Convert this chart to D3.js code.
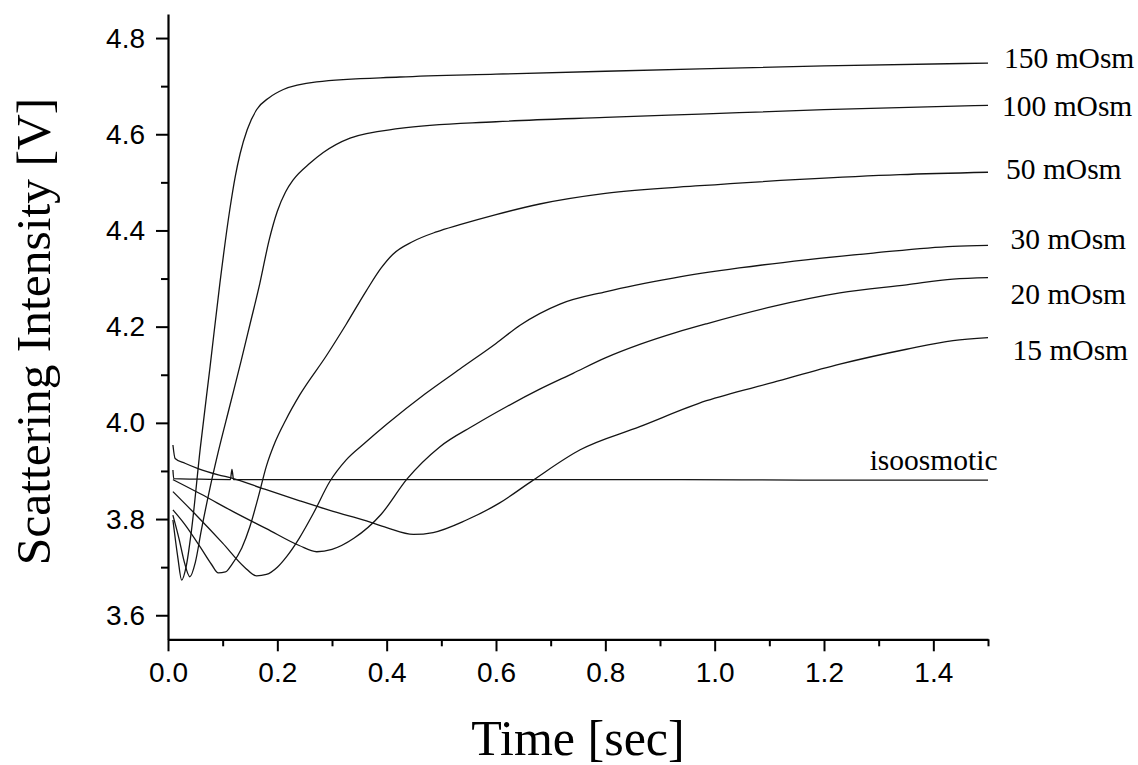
<!DOCTYPE html>
<html>
<head>
<meta charset="utf-8">
<script src="https://cdn.jsdelivr.net/npm/d3@7"></script>
<style>
  html, body { margin: 0; padding: 0; background: #fff; }
  svg { display: block; }
</style>
</head>
<body>
<svg id="chart" width="1138" height="765"></svg>
<script>
// Light-scattering traces: intensity [V] versus time [sec] for each medium
const iso = [[0.009,3.902],[0.0105,3.884],[0.05,3.883],[0.114,3.882],[0.117,3.903],[0.12,3.882],
  [0.3,3.882],[0.6,3.882],[0.9,3.882],[1.2,3.881],[1.5,3.881]];
const m15 = [[0.009,3.954],[0.013,3.926],[0.031,3.916],[0.055,3.905],[0.092,3.892],[0.117,3.885],
  [0.177,3.862],[0.241,3.838],[0.302,3.816],[0.363,3.796],[0.40,3.782],[0.449,3.768],[0.485,3.772],
  [0.546,3.798],[0.606,3.833],[0.668,3.881],[0.754,3.944],[0.863,3.992],[0.985,4.046],[1.107,4.084],
  [1.229,4.122],[1.351,4.153],[1.436,4.171],[1.5,4.177]];
const m20 = [[0.009,3.882],[0.06,3.852],[0.12,3.815],[0.18,3.78],[0.24,3.745],[0.272,3.732],
  [0.30,3.737],[0.34,3.76],[0.39,3.81],[0.437,3.883],[0.497,3.95],[0.56,3.995],[0.62,4.034],
  [0.68,4.07],[0.741,4.103],[0.80,4.135],[0.863,4.163],[0.93,4.188],[0.985,4.206],[1.107,4.242],
  [1.229,4.270],[1.351,4.287],[1.436,4.299],[1.5,4.302]];
const m30 = [[0.009,3.857],[0.05,3.81],[0.10,3.75],[0.14,3.70],[0.162,3.682],[0.18,3.685],
  [0.20,3.70],[0.217,3.722],[0.24,3.76],[0.266,3.812],[0.296,3.878],[0.326,3.923],[0.36,3.958],
  [0.40,3.997],[0.47,4.06],[0.534,4.112],[0.60,4.165],[0.644,4.203],[0.717,4.247],[0.802,4.273],
  [0.924,4.301],[1.045,4.322],[1.167,4.339],[1.29,4.353],[1.436,4.367],[1.5,4.369]];
const m50 = [[0.009,3.819],[0.03,3.79],[0.06,3.74],[0.08,3.705],[0.092,3.688],[0.105,3.69],
  [0.117,3.706],[0.135,3.74],[0.15,3.785],[0.165,3.845],[0.18,3.91],[0.196,3.96],[0.215,4.005],
  [0.241,4.058],[0.29,4.14],[0.326,4.205],[0.363,4.275],[0.39,4.322],[0.411,4.35],[0.448,4.377],
  [0.491,4.397],[0.534,4.412],[0.60,4.433],[0.68,4.455],[0.80,4.477],[0.973,4.493],[1.156,4.506],
  [1.339,4.516],[1.5,4.521]];
const m100 = [[0.009,3.808],[0.02,3.76],[0.03,3.71],[0.040,3.680],[0.05,3.71],[0.061,3.777],
  [0.075,3.855],[0.092,3.94],[0.113,4.035],[0.134,4.13],[0.150,4.205],[0.168,4.29],[0.185,4.38],
  [0.20,4.44],[0.215,4.48],[0.229,4.505],[0.260,4.54],[0.284,4.562],[0.333,4.592],[0.424,4.612],
  [0.6,4.626],[0.8,4.635],[0.973,4.642],[1.2,4.651],[1.5,4.660]];
const m150 = [[0.009,3.798],[0.018,3.72],[0.025,3.673],[0.033,3.70],[0.043,3.777],[0.059,3.947],
  [0.077,4.117],[0.095,4.291],[0.113,4.443],[0.123,4.512],[0.132,4.56],[0.145,4.61],[0.162,4.651],
  [0.185,4.676],[0.211,4.693],[0.272,4.709],[0.424,4.719],[0.6,4.725],[0.8,4.731],[0.973,4.736],
  [1.2,4.742],[1.5,4.748]];

const seriesNames = ["150 mOsm","100 mOsm","50 mOsm","30 mOsm","20 mOsm","15 mOsm","isoosmotic"];
const seriesValues = [m150, m100, m50, m30, m20, m15, iso];

const xTicks = [0.0,0.2,0.4,0.6,0.8,1.0,1.2,1.4];
const xMinorTicks = [0.1,0.3,0.5,0.7,0.9,1.1,1.3,1.5];
const yTicks = [3.6,3.8,4.0,4.2,4.4,4.6,4.8];
const yMinorTicks = [3.7,3.9,4.1,4.3,4.5,4.7];
const xTitle = "Time [sec]";
const yTitle = "Scattering Intensity [V]";

// Label placement relative to each trace's last point (pixels)
const labelOffsets = [
  {dx: 16, dy: 5, anchor: "start"},
  {dx: 14, dy: 10.5, anchor: "start"},
  {dx: 18, dy: 7, anchor: "start"},
  {dx: 22.5, dy: 4, anchor: "start"},
  {dx: 22.5, dy: 26.5, anchor: "start"},
  {dx: 24.5, dy: 22.5, anchor: "start"},
  {dx: 9.5, dy: -10.5, anchor: "end"}
];

const svg = d3.select("#chart");
const plot = {left: 168, right: 988, top: 14, bottom: 639.3};

const x = d3.scaleLinear().domain([0, 1.5]).range([plot.left, plot.right]);
const y = d3.scaleLinear().domain([3.55, 4.85]).range([plot.bottom, plot.top]);

const sansFont = "'Liberation Sans', Arial, sans-serif";
const serifFont = "'Liberation Serif', 'Times New Roman', serif";

// Minor ticks first, then the major axes on top
svg.append("g")
  .attr("transform", `translate(0,${plot.bottom})`)
  .call(d3.axisBottom(x).tickValues(xMinorTicks).tickSize(7).tickSizeOuter(0).tickFormat(""))
  .call(g => g.select(".domain").remove())
  .call(g => g.selectAll("line").attr("stroke", "#000").attr("stroke-width", 2));

svg.append("g")
  .attr("transform", `translate(${plot.left},0)`)
  .call(d3.axisLeft(y).tickValues(yMinorTicks).tickSize(7).tickSizeOuter(0).tickFormat(""))
  .call(g => g.select(".domain").remove())
  .call(g => g.selectAll("line").attr("stroke", "#000").attr("stroke-width", 2));

const xAxis = svg.append("g")
  .attr("transform", `translate(0,${plot.bottom})`)
  .call(d3.axisBottom(x).tickValues(xTicks).tickSize(12).tickSizeOuter(0)
    .tickPadding(11).tickFormat(d3.format(".1f")));

const yAxis = svg.append("g")
  .attr("transform", `translate(${plot.left},0)`)
  .call(d3.axisLeft(y).tickValues(yTicks).tickSize(12).tickSizeOuter(0)
    .tickPadding(11).tickFormat(d3.format(".1f")));

[xAxis, yAxis].forEach(g => {
  g.select(".domain").attr("stroke", "#000").attr("stroke-width", 2.2);
  g.selectAll(".tick line").attr("stroke", "#000").attr("stroke-width", 2);
  g.selectAll(".tick text")
    .attr("font-family", sansFont)
    .attr("font-size", 28)
    .attr("fill", "#000");
});

// Traces
const line = d3.line()
  .x(d => x(d[0]))
  .y(d => y(d[1]))
  .curve(d3.curveMonotoneX);

svg.append("g")
  .selectAll("path")
  .data(seriesValues)
  .join("path")
  .attr("d", line)
  .attr("fill", "none")
  .attr("stroke", "#141414")
  .attr("stroke-width", 1.3)
  .attr("stroke-linejoin", "round");

// Concentration labels beside the trace ends
svg.append("g")
  .selectAll("text")
  .data(seriesNames)
  .join("text")
  .attr("x", (d, i) => {
    const s = seriesValues[i];
    return x(s[s.length - 1][0]) + labelOffsets[i].dx;
  })
  .attr("y", (d, i) => {
    const s = seriesValues[i];
    return y(s[s.length - 1][1]) + labelOffsets[i].dy;
  })
  .attr("text-anchor", (d, i) => labelOffsets[i].anchor)
  .attr("font-family", serifFont)
  .attr("font-size", 29.5)
  .attr("fill", "#000")
  .text(d => d);

// Axis titles
svg.append("text")
  .attr("x", (plot.left + plot.right) / 2)
  .attr("y", 755)
  .attr("text-anchor", "middle")
  .attr("font-family", serifFont)
  .attr("font-size", 50)
  .attr("fill", "#000")
  .text(xTitle);

svg.append("text")
  .attr("transform", `translate(50,${331.5}) rotate(-90)`)
  .attr("text-anchor", "middle")
  .attr("font-family", serifFont)
  .attr("font-size", 49.5)
  .attr("fill", "#000")
  .text(yTitle);
</script>
</body>
</html>
